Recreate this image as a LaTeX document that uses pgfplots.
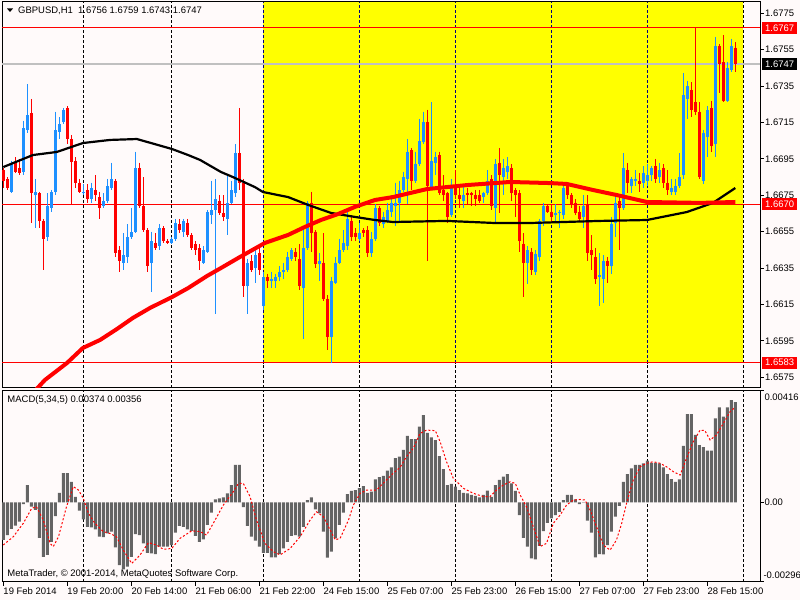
\documentclass[border=0pt]{standalone}
\usepackage{fontspec}
\setmainfont{Liberation Sans}
\usepackage{pgfplots}
\usepackage{pgfplotstable}
\pgfplotsset{compat=1.18}
\definecolor{bg}{RGB}{255,250,250}
\definecolor{cblue}{RGB}{30,144,255}
\definecolor{cred}{RGB}{255,0,0}
\definecolor{macdgray}{RGB}{100,100,100}
\definecolor{gnavy}{RGB}{0,0,128}
\definecolor{lgray}{RGB}{192,192,192}
\definecolor{yel}{RGB}{255,255,0}

\pgfplotstableread{
i o h l c
2 1.6677 1.6694 1.6676 1.6693
5 1.6688 1.6716 1.6686 1.6712
6 1.6711 1.6736 1.6709 1.6719
8 1.6675 1.6684 1.6657 1.6677
11 1.6652 1.6676 1.6650 1.6669
12 1.6668 1.6678 1.6666 1.6677
13 1.6677 1.6721 1.6675 1.6711
14 1.6710 1.6718 1.6706 1.6714
15 1.6715 1.6723 1.6714 1.6722
20 1.6676 1.6681 1.6675 1.6677
22 1.6673 1.6682 1.6671 1.6679
25 1.6669 1.6676 1.6668 1.6672
26 1.6672 1.6684 1.6671 1.6680
27 1.6679 1.6693 1.6678 1.6684
30 1.6638 1.6654 1.6634 1.6642
31 1.6641 1.6659 1.6638 1.6652
32 1.6652 1.6668 1.6651 1.6655
33 1.6655 1.6699 1.6654 1.6690
37 1.6638 1.6655 1.6622 1.6650
39 1.6647 1.6659 1.6645 1.6657
42 1.6649 1.6652 1.6648 1.6651
43 1.6651 1.6662 1.6650 1.6660
45 1.6655 1.6662 1.6652 1.6661
50 1.6638 1.6647 1.6637 1.6645
51 1.6644 1.6667 1.6643 1.6666
52 1.6664 1.6683 1.6659 1.6667
53 1.6667 1.6684 1.6610 1.6673
56 1.6662 1.6686 1.6653 1.6671
57 1.6671 1.6683 1.6670 1.6678
58 1.6676 1.6703 1.6674 1.6698
61 1.6625 1.6640 1.6610 1.6638
63 1.6635 1.6646 1.6627 1.6642
65 1.6614 1.6633 1.6612 1.6630
67 1.6628 1.6633 1.6624 1.6629
68 1.6628 1.6632 1.6624 1.6630
69 1.6630 1.6636 1.6628 1.6633
70 1.6633 1.6638 1.6629 1.6634
71 1.6634 1.6644 1.6633 1.6641
72 1.6640 1.6646 1.6639 1.6645
75 1.6624 1.6657 1.6596 1.6646
76 1.6646 1.6672 1.6645 1.6671
79 1.6637 1.6643 1.6628 1.6639
82 1.6597 1.6630 1.6583 1.6628
83 1.6627 1.6641 1.6626 1.6638
84 1.6638 1.6651 1.6637 1.6645
85 1.6645 1.6656 1.6644 1.6649
86 1.6647 1.6668 1.6645 1.6662
89 1.6651 1.6660 1.6650 1.6654
92 1.6643 1.6655 1.6641 1.6651
93 1.6651 1.6670 1.6650 1.6668
95 1.6659 1.6666 1.6657 1.6663
96 1.6661 1.6671 1.6660 1.6667
97 1.6666 1.6675 1.6663 1.6671
98 1.6669 1.6682 1.6658 1.6671
99 1.6671 1.6683 1.6661 1.6678
100 1.6678 1.6688 1.6677 1.6685
101 1.6684 1.6706 1.6670 1.6699
103 1.6683 1.6699 1.6682 1.6692
104 1.6692 1.6717 1.6691 1.6705
105 1.6704 1.6721 1.6703 1.6715
107 1.6679 1.6726 1.6678 1.6694
108 1.6693 1.6699 1.6686 1.6696
112 1.6664 1.6684 1.6663 1.6680
115 1.6672 1.6681 1.6668 1.6675
120 1.6674 1.6677 1.6671 1.6676
121 1.6676 1.6689 1.6675 1.6683
123 1.6668 1.6695 1.6659 1.6692
125 1.6685 1.6695 1.6675 1.6690
126 1.6688 1.6696 1.6684 1.6691
131 1.6638 1.6647 1.6626 1.6645
133 1.6633 1.6645 1.6631 1.6643
134 1.6641 1.6662 1.6639 1.6661
135 1.6661 1.6671 1.6658 1.6669
138 1.6664 1.6670 1.6660 1.6665
139 1.6665 1.6667 1.6657 1.6666
140 1.6664 1.6682 1.6662 1.6679
145 1.6663 1.6675 1.6657 1.6669
149 1.6630 1.6643 1.6614 1.6631
150 1.6629 1.6642 1.6616 1.6639
152 1.6636 1.6663 1.6632 1.6659
153 1.6660 1.6676 1.6652 1.6671
155 1.6668 1.6698 1.6667 1.6690
157 1.6680 1.6685 1.6676 1.6684
158 1.6683 1.6689 1.6680 1.6684
160 1.6682 1.6691 1.6679 1.6687
161 1.6683 1.6692 1.6680 1.6686
162 1.6686 1.6691 1.6683 1.6690
164 1.6685 1.6693 1.6682 1.6689
167 1.6677 1.6684 1.6675 1.6679
168 1.6677 1.6684 1.6675 1.6680
169 1.6680 1.6698 1.6679 1.6685
170 1.6686 1.6742 1.6684 1.6730
171 1.6728 1.6738 1.6717 1.6735
175 1.6683 1.6711 1.6681 1.6709
176 1.6707 1.6724 1.6696 1.6722
178 1.6703 1.6762 1.6696 1.6757
181 1.6727 1.6748 1.6726 1.6745
182 1.6744 1.6761 1.6743 1.6757
}\bull

\pgfplotstableread{
i o h l c
0 1.6689 1.6690 1.6679 1.6683
1 1.6684 1.6685 1.6678 1.6679
3 1.6693 1.6696 1.6687 1.6688
4 1.6690 1.6695 1.6686 1.6687
7 1.6720 1.6728 1.6660 1.6676
9 1.6676 1.6677 1.6657 1.6661
10 1.6661 1.6662 1.6634 1.6651
16 1.6723 1.6724 1.6703 1.6706
17 1.6706 1.6708 1.6670 1.6693
18 1.6694 1.6696 1.6679 1.6682
19 1.6682 1.6684 1.6676 1.6677
21 1.6678 1.6681 1.6671 1.6673
23 1.6678 1.6686 1.6672 1.6675
24 1.6674 1.6677 1.6662 1.6668
28 1.6683 1.6684 1.6641 1.6643
29 1.6645 1.6647 1.6633 1.6639
34 1.6690 1.6693 1.6668 1.6669
35 1.6669 1.6685 1.6655 1.6656
36 1.6656 1.6657 1.6633 1.6636
38 1.6649 1.6654 1.6645 1.6646
40 1.6657 1.6658 1.6649 1.6650
41 1.6650 1.6651 1.6648 1.6649
44 1.6659 1.6662 1.6654 1.6656
46 1.6660 1.6662 1.6652 1.6653
47 1.6653 1.6654 1.6645 1.6646
48 1.6648 1.6650 1.6642 1.6645
49 1.6646 1.6648 1.6634 1.6639
54 1.6672 1.6675 1.6664 1.6665
55 1.6665 1.6675 1.6661 1.6663
59 1.6698 1.6723 1.6678 1.6682
60 1.6682 1.6684 1.6619 1.6625
62 1.6639 1.6642 1.6633 1.6634
64 1.6643 1.6646 1.6631 1.6634
66 1.6630 1.6632 1.6624 1.6628
73 1.6644 1.6646 1.6639 1.6641
74 1.6640 1.6648 1.6623 1.6625
77 1.6671 1.6677 1.6644 1.6654
78 1.6655 1.6656 1.6635 1.6637
80 1.6638 1.6654 1.6617 1.6618
81 1.6618 1.6620 1.6590 1.6597
87 1.6661 1.6664 1.6650 1.6652
88 1.6654 1.6657 1.6650 1.6652
90 1.6656 1.6657 1.6652 1.6654
91 1.6656 1.6658 1.6641 1.6643
94 1.6668 1.6669 1.6658 1.6660
102 1.6700 1.6701 1.6678 1.6683
106 1.6715 1.6722 1.6639 1.6680
109 1.6697 1.6699 1.6675 1.6676
110 1.6678 1.6686 1.6672 1.6675
111 1.6676 1.6677 1.6660 1.6663
113 1.6679 1.6689 1.6673 1.6675
114 1.6675 1.6679 1.6668 1.6673
116 1.6676 1.6679 1.6670 1.6675
117 1.6676 1.6677 1.6669 1.6675
118 1.6675 1.6678 1.6669 1.6673
119 1.6675 1.6678 1.6671 1.6672
122 1.6684 1.6686 1.6667 1.6669
124 1.6693 1.6701 1.6665 1.6686
127 1.6690 1.6692 1.6672 1.6676
128 1.6678 1.6679 1.6663 1.6675
129 1.6676 1.6678 1.6644 1.6650
130 1.6648 1.6654 1.6619 1.6638
132 1.6644 1.6646 1.6631 1.6634
136 1.6669 1.6670 1.6665 1.6666
137 1.6666 1.6670 1.6660 1.6663
141 1.6680 1.6682 1.6673 1.6675
142 1.6675 1.6676 1.6668 1.6670
143 1.6671 1.6673 1.6664 1.6665
144 1.6666 1.6669 1.6661 1.6662
146 1.6670 1.6675 1.6639 1.6643
147 1.6645 1.6653 1.6634 1.6642
148 1.6641 1.6646 1.6626 1.6629
151 1.6639 1.6641 1.6627 1.6636
154 1.6672 1.6675 1.6645 1.6668
156 1.6689 1.6693 1.6676 1.6682
159 1.6683 1.6687 1.6677 1.6681
163 1.6691 1.6695 1.6682 1.6684
165 1.6690 1.6692 1.6679 1.6682
166 1.6682 1.6689 1.6675 1.6678
172 1.6733 1.6737 1.6718 1.6722
173 1.6726 1.6767 1.6719 1.6721
174 1.6721 1.6726 1.6684 1.6685
177 1.6723 1.6727 1.6699 1.6702
179 1.6757 1.6758 1.6731 1.6747
180 1.6748 1.6763 1.6726 1.6727
183 1.6756 1.6759 1.6743 1.6747
}\bear

\pgfplotstableread{
i v
0 -0.00140
1 -0.00122
2 -0.00099
3 -0.00087
4 -0.00072
5 -0.00006
6 0.00065
7 -0.00016
8 -0.00028
9 -0.00132
10 -0.00203
11 -0.00196
12 -0.00147
13 -0.00051
14 0.00036
15 0.00109
16 0.00109
17 0.00077
18 0.00021
19 -0.00031
20 -0.00063
21 -0.00091
22 -0.00093
23 -0.00101
24 -0.00128
25 -0.00130
26 -0.00116
27 -0.00109
28 -0.00168
29 -0.00234
30 -0.00250
31 -0.00240
32 -0.00203
33 -0.00118
34 -0.00122
35 -0.00153
36 -0.00188
37 -0.00190
38 -0.00193
39 -0.00165
40 -0.00165
41 -0.00165
42 -0.00159
43 -0.00113
44 -0.00088
45 -0.00091
46 -0.00101
47 -0.00106
48 -0.00125
49 -0.00147
50 -0.00138
51 -0.00084
52 -0.00038
53 0.00011
54 0.00015
55 0.00019
56 0.00034
57 0.00065
58 0.00140
59 0.00140
60 -0.00018
61 -0.00088
62 -0.00128
63 -0.00143
64 -0.00165
65 -0.00188
66 -0.00188
67 -0.00205
68 -0.00205
69 -0.00193
70 -0.00172
71 -0.00147
72 -0.00125
73 -0.00122
74 -0.00128
75 -0.00091
76 0.00009
77 0.00019
78 -0.00026
79 -0.00041
80 -0.00109
81 -0.00206
82 -0.00184
83 -0.00134
84 -0.00084
85 -0.00038
86 0.00031
87 0.00043
88 0.00046
89 0.00053
90 0.00061
91 0.00036
92 0.00040
93 0.00086
94 0.00094
95 0.00099
96 0.00119
97 0.00131
98 0.00165
99 0.00171
100 0.00196
101 0.00248
102 0.00236
103 0.00236
104 0.00283
105 0.00326
106 0.00260
107 0.00243
108 0.00233
109 0.00173
110 0.00124
111 0.00065
112 0.00069
113 0.00059
114 0.00046
115 0.00036
116 0.00034
117 0.00028
118 0.00024
119 0.00019
120 0.00028
121 0.00044
122 0.00021
123 0.00065
124 0.00084
125 0.00096
126 0.00106
127 0.00071
128 0.00043
129 -0.00047
130 -0.00132
131 -0.00165
132 -0.00209
133 -0.00213
134 -0.00162
135 -0.00107
136 -0.00076
137 -0.00060
138 -0.00047
139 -0.00035
140 0.00009
141 0.00028
142 0.00028
143 0.00011
144 -0.00006
145 -0.00001
146 -0.00068
147 -0.00113
148 -0.00205
149 -0.00193
150 -0.00194
151 -0.00159
152 -0.00109
153 -0.00053
154 -0.00013
155 0.00077
156 0.00106
157 0.00127
158 0.00140
159 0.00140
160 0.00146
161 0.00156
162 0.00148
163 0.00148
164 0.00146
165 0.00131
166 0.00106
167 0.00087
168 0.00077
169 0.00086
170 0.00211
171 0.00330
172 0.00330
173 0.00252
174 0.00214
175 0.00206
176 0.00193
177 0.00193
178 0.00314
179 0.00355
180 0.00320
181 0.00355
182 0.00382
183 0.00374
}\macd

\begin{document}
\begin{tikzpicture}[x=1bp,y=1bp,font=\fontsize{9.5}{11}\selectfont]
\useasboundingbox (0,0) rectangle (800,600);
\fill[bg] (0,0) rectangle (800,600);

% ---------------- main price panel ----------------
\begin{axis}[at={(2bp,212bp)}, anchor=south west, scale only axis,
  width=758bp, height=386bp,
  xmin=-0.325, xmax=189.175, ymin=1.65691, ymax=1.67812,
  clip mode=individual,
  axis line style={black, line width=1bp},
  xtick=\empty, ytick=\empty]
  % highlighted rectangle
  \fill[yel] (axis cs:65,1.6583) rectangle (axis cs:185,1.67812);
  % vertical grid
  \draw[black, line width=1bp, dash pattern=on 3bp off 2bp] (axis cs:20,1.65691) -- (axis cs:20,1.67812);
  \draw[black, line width=1bp, dash pattern=on 3bp off 2bp] (axis cs:42.1,1.65691) -- (axis cs:42.1,1.67812);
  \draw[black, line width=1bp, dash pattern=on 3bp off 2bp] (axis cs:185,1.65691) -- (axis cs:185,1.67812);
  \pgfplotsinvokeforeach{65,89,113,137,161}{
    \draw[gnavy, line width=1bp, dash pattern=on 3bp off 2bp] (axis cs:#1,1.6583) -- (axis cs:#1,1.67812);
    \draw[black, line width=1bp, dash pattern=on 3bp off 2bp] (axis cs:#1,1.65691) -- (axis cs:#1,1.6583);
  }
  % horizontal lines
  \draw[cred, line width=1bp] (axis cs:-0.325,1.6767) -- (axis cs:189.175,1.6767);
  \draw[lgray, line width=1.5bp] (axis cs:-0.325,1.6747) -- (axis cs:189.175,1.6747);
  \draw[cred, line width=1bp] (axis cs:-0.325,1.6670) -- (axis cs:189.175,1.6670);
  \draw[cred, line width=1bp] (axis cs:-0.325,1.6583) -- (axis cs:189.175,1.6583);
  % candles
  \addplot[cblue, line width=1bp, quiver={u=0, v=\thisrow{l}-\thisrow{h}}] table[x=i, y=h] {\bull};
  \addplot[cblue, line width=3bp, quiver={u=0, v=\thisrow{c}-\thisrow{o}}] table[x=i, y=o] {\bull};
  \addplot[cred, line width=1bp, quiver={u=0, v=\thisrow{l}-\thisrow{h}}] table[x=i, y=h] {\bear};
  \addplot[cred, line width=3bp, quiver={u=0, v=\thisrow{c}-\thisrow{o}}] table[x=i, y=o] {\bear};
  % moving averages
  \addplot[black, line width=2.2bp] coordinates {(0,1.66905) (7.4,1.66971) (13.4,1.66988) (19.9,1.67037) (26.7,1.67054) (33.4,1.67059) (42.2,1.67004) (46.2,1.66971) (49.2,1.66944) (54.4,1.66878) (57.4,1.66850) (62.9,1.66795) (64.9,1.66768) (71.2,1.66740) (76.2,1.66697) (81.9,1.66653) (87.9,1.66631) (92.9,1.66614) (97.4,1.66603) (110.9,1.66609) (122.4,1.66598) (132.4,1.66598) (149.2,1.66609) (160.9,1.66614) (165.9,1.66636) (170.9,1.66658) (177.4,1.66708) (183,1.66790)};
  \addplot[cred, line width=4bp] coordinates {(6.7,1.65647) (10.4,1.65735) (15.9,1.65828) (19.9,1.65911) (24.2,1.65955) (28.4,1.66015) (32.4,1.66076) (36.7,1.66131) (42.2,1.66191) (46.2,1.66240) (50.9,1.66306) (54.4,1.66350) (58.7,1.66405) (65.4,1.66488) (71.2,1.66532) (75.4,1.66576) (79.4,1.66614) (83.7,1.66647) (87.9,1.66686) (92.9,1.66724) (97.4,1.66740) (105.9,1.66784) (115.9,1.66806) (126.7,1.66823) (136.7,1.66817) (140.9,1.66812) (147.4,1.66779) (153.4,1.66751) (160.9,1.66713) (174.2,1.66708) (183,1.66713)};
  % price scale ticks and labels
  \pgfplotsinvokeforeach{1.6575,1.6595,1.6615,1.6635,1.6655,1.6675,1.6695,1.6715,1.6735,1.6755,1.6775}{
    \draw[black, line width=1bp] (axis cs:189.175,#1) -- ([xshift=4bp]axis cs:189.175,#1);
    \node[anchor=west, inner sep=0pt] at ([xshift=5bp]axis cs:189.175,#1) {#1};
  }
  \node[anchor=west, fill=cred, text=white, inner xsep=3bp, inner ysep=0pt, minimum height=12bp] at ([xshift=2bp]axis cs:189.175,1.6767) {1.6767};
  \node[anchor=west, fill=black, text=white, inner xsep=3bp, inner ysep=0pt, minimum height=12bp] at ([xshift=2bp]axis cs:189.175,1.6747) {1.6747};
  \node[anchor=west, fill=cred, text=white, inner xsep=3bp, inner ysep=0pt, minimum height=12bp] at ([xshift=2bp]axis cs:189.175,1.6670) {1.6670};
  \node[anchor=west, fill=cred, text=white, inner xsep=3bp, inner ysep=0pt, minimum height=12bp] at ([xshift=2bp]axis cs:189.175,1.6583) {1.6583};
\end{axis}

% ---------------- MACD panel ----------------
\begin{axis}[at={(2bp,18.3bp)}, anchor=south west, scale only axis,
  width=758bp, height=190.7bp,
  xmin=-0.325, xmax=189.175, ymin=-0.00296, ymax=0.00416,
  clip mode=individual,
  axis line style={black, line width=1bp},
  xtick=\empty, ytick=\empty]
  \pgfplotsinvokeforeach{20,42.1,65,89,113,137,161,185}{
    \draw[black, line width=1bp, dash pattern=on 3bp off 2bp] (axis cs:#1,-0.00296) -- (axis cs:#1,0.00416);
  }
  \pgfplotsinvokeforeach{0,16,32,48,64,80,96,112,128,144,160,176}{
    \draw[black, line width=1bp] (axis cs:#1,-0.00296) -- ([yshift=-4bp]axis cs:#1,-0.00296);
  }
  \pgfplotsinvokeforeach{-0.00296,0,0.00416}{
    \draw[black, line width=1bp] (axis cs:189.175,#1) -- ([xshift=4bp]axis cs:189.175,#1);
  }
  \addplot[ybar, bar width=3bp, bar shift=0pt, fill=macdgray, draw=none] table[x=i, y=v] {\macd};
  \addplot[cred, line width=1bp, dash pattern=on 2bp off 2bp] coordinates {(0,-0.00159) (2.5,-0.00128) (5,-0.00078) (7.1,-0.00022) (8.3,-0.00016) (10,-0.00066) (11.7,-0.00153) (12.5,-0.00165) (13.8,-0.00128) (15.8,-0.00016) (17.5,0.00059) (18.8,0.00046) (20,0.00015) (21.3,-0.00041) (22.9,-0.00078) (25,-0.00109) (26.7,-0.00116) (28.3,-0.00128) (30,-0.00178) (32.1,-0.00228) (34.2,-0.00196) (36.3,-0.00150) (38.3,-0.00159) (40,-0.00175) (42.1,-0.00172) (44.2,-0.00134) (47.1,-0.00106) (49.2,-0.00109) (50.8,-0.00122) (52.5,-0.00078) (55,-0.00010) (57.5,0.00040) (58.8,0.00071) (60,0.00071) (61.7,0.00021) (63.3,-0.00066) (65.4,-0.00153) (67.5,-0.00184) (69.2,-0.00196) (71.7,-0.00172) (74.2,-0.00128) (76.7,-0.00066) (78.3,-0.00035) (80,-0.00053) (81.3,-0.00091) (83,-0.00140) (84.2,-0.00134) (86.3,-0.00066) (87.5,-0.00010) (89.2,0.00034) (90.8,0.00046) (93.3,0.00046) (95.8,0.00084) (97.5,0.00109) (99.2,0.00131) (100.8,0.00171) (102.5,0.00202) (104.2,0.00258) (105.8,0.00270) (108,0.00268) (109.2,0.00227) (110.8,0.00152) (112.5,0.00090) (115,0.00053) (117.5,0.00034) (120,0.00022) (121.7,0.00022) (123.3,0.00046) (125,0.00065) (126.7,0.00077) (128,0.00071) (129.2,0.00028) (130.8,-0.00016) (132.5,-0.00091) (134.2,-0.00165) (135.8,-0.00153) (137.5,-0.00078) (139.2,-0.00047) (140.8,-0.00010) (142.5,0.00009) (144.2,0.00011) (145.4,0.00009) (146.7,-0.00028) (148.3,-0.00091) (150,-0.00159) (151.7,-0.00178) (153.3,-0.00140) (154.6,-0.00078) (155.8,-0.00004) (157.5,0.00084) (159.2,0.00133) (160.8,0.00146) (162.5,0.00152) (164.2,0.00146) (165.8,0.00133) (167.5,0.00115) (169.2,0.00102) (170.8,0.00165) (172.5,0.00227) (174.2,0.00270) (175.4,0.00268) (176.7,0.00233) (178.3,0.00252) (180,0.00295) (181.7,0.00339) (183,0.00356)};
\end{axis}

% ---------------- texts ----------------
\fill[black] (7,591.5) -- (13,591.5) -- (10,588) -- cycle;
\node[anchor=base west, inner sep=0pt] at (18,586) {GBPUSD,H1\ \ 1.6756 1.6759 1.6743 1.6747};
\node[anchor=base west, inner sep=0pt] at (7.3,197.5) {MACD(5,34,5) 0.00374 0.00356};
\node[anchor=base west, inner sep=0pt] at (7.3,23) {MetaTrader, © 2001-2014, MetaQuotes Software Corp.};
\node[anchor=west, inner sep=0pt] at (764.3,202.7) {0.00416};
\node[anchor=west, inner sep=0pt] at (764.3,97.6) {0.00};
\node[anchor=west, inner sep=0pt] at (763.3,25) {-0.00296};
\foreach \k/\t in {0/19 Feb 2014,1/19 Feb 20:00,2/20 Feb 14:00,3/21 Feb 06:00,4/21 Feb 22:00,5/24 Feb 15:00,6/25 Feb 07:00,7/25 Feb 23:00,8/26 Feb 15:00,9/27 Feb 07:00,10/27 Feb 23:00,11/28 Feb 15:00}{
  \node[anchor=base west, inner sep=0pt] at (3.3+64*\k,5.5) {\t};
}
\end{tikzpicture}
\end{document}
